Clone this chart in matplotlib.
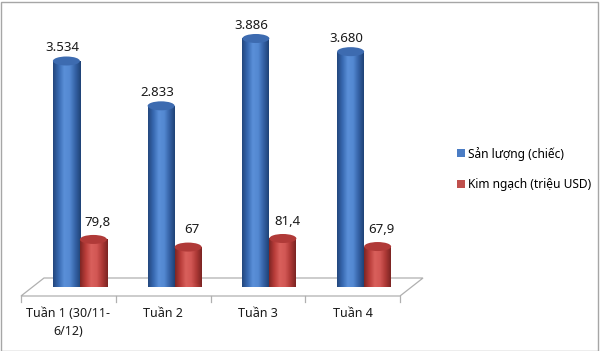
import numpy as np
import matplotlib.pyplot as plt
from matplotlib.patches import Ellipse, Polygon, Rectangle, Patch
from matplotlib.colors import LinearSegmentedColormap
from matplotlib.lines import Line2D

plt.rcParams['font.family'] = ['Noto Sans', 'DejaVu Sans']

categories = ['Tuần 1 (30/11-\n6/12)', 'Tuần 2', 'Tuần 3', 'Tuần 4']
san_luong = [3534, 2833, 3886, 3680]
kim_ngach = [79.8, 67, 81.4, 67.9]
san_luong_labels = ['3.534', '2.833', '3.886', '3.680']
kim_ngach_labels = ['79,8', '67', '81,4', '67,9']
series_names = ['Sản lượng (chiếc)', 'Kim ngạch (triệu USD)']

blue_cmap = LinearSegmentedColormap.from_list(
    'blue_cyl', ['#23467c', '#3768b0', '#5a8fd8', '#5489d2', '#3562a6', '#1f4275'])
red_cmap = LinearSegmentedColormap.from_list(
    'red_cyl', ['#7c2523', '#b83c39', '#d9605c', '#d25754', '#ad3936', '#7a2422'])

W, H, DPI = 600, 351, 100
fig = plt.figure(figsize=(W / DPI, H / DPI), dpi=DPI)

# plot plane (middle depth of the 3d floor), in pixels
px_left, px_right, px_zero, px_top = 32.5, 411.5, 287, 20
ax = fig.add_axes([px_left / W, (H - px_zero) / H,
                   (px_right - px_left) / W, (px_zero - px_top) / H])
ax2 = ax.twinx()

x = np.arange(len(categories))
xmin, xmax = -0.5, len(categories) - 0.5
y1max, y2max = 4175, 448
px_x = (px_right - px_left) / (xmax - xmin)
px_y1 = (px_zero - px_top) / y1max
px_y2 = (px_zero - px_top) / y2max

bar_w = 27 / px_x
cap_px = 9
depth_dx = 11.5 / px_x
depth_dy = 9 / px_y1


def cylinders(a, xs, vals, cmap, cap_color, px_y):
    eh = cap_px / px_y
    bars = a.bar(xs, vals, bar_w, align='edge', color='none', edgecolor='none', zorder=3)
    grad = np.linspace(0, 1, 256).reshape(1, -1)
    for b in bars:
        x0, w, h = b.get_x(), b.get_width(), b.get_height()
        base = Ellipse((x0 + w / 2, 0), w, eh, facecolor='none', edgecolor='none')
        a.add_patch(base)
        for clip in (b, base):
            im = a.imshow(grad, cmap=cmap, extent=(x0, x0 + w, -eh, h), aspect='auto',
                          origin='lower', interpolation='bilinear', zorder=3)
            im.set_clip_path(clip)
            im.set_clip_on(True)
        a.add_patch(Ellipse((x0 + w / 2, h), w, eh, facecolor=cap_color,
                            edgecolor='none', zorder=4))
    return bars


# floor of the 3d chart
floor = Polygon([(xmin - depth_dx, -depth_dy), (xmax - depth_dx, -depth_dy),
                 (xmax + depth_dx, depth_dy), (xmin + depth_dx, depth_dy)],
                closed=True, facecolor='white', edgecolor='#b0b0b0', lw=0.9,
                clip_on=False, zorder=1)
ax.add_patch(floor)
tick_len = 6 / px_y1
for xb in np.arange(xmin, xmax + 0.01, 1.0):
    ax.add_line(Line2D([xb - depth_dx, xb - depth_dx], [-depth_dy, -depth_dy - tick_len],
                       color='#b0b0b0', lw=0.9, clip_on=False))

cylinders(ax, x - bar_w, san_luong, blue_cmap, '#3d6bb0', px_y1)
cylinders(ax2, x, kim_ngach, red_cmap, '#b03a38', px_y2)

for xi, v, t in zip(x, san_luong, san_luong_labels):
    ax.annotate(t, (xi - bar_w / 2, v), xytext=(-3, 9.5), textcoords='offset points',
                ha='center', va='center', fontsize=9.5, color='#1a1a1a')
for xi, v, t in zip(x, kim_ngach, kim_ngach_labels):
    ax2.annotate(t, (xi + bar_w / 2, v), xytext=(3, 12.5), textcoords='offset points',
                 ha='center', va='center', fontsize=9.5, color='#1a1a1a')

for xi, c in zip(x, categories):
    ax.text(xi - depth_dx, -depth_dy - 11 / px_y1, c, ha='center', va='top',
            fontsize=9, color='#1a1a1a', linespacing=1.5)

for a, ym in ((ax, y1max), (ax2, y2max)):
    a.set_xlim(xmin, xmax)
    a.set_ylim(0, ym)
    a.set_autoscale_on(False)
    a.axis('off')

handles = [Patch(facecolor='#4a7cc4', edgecolor='none'),
           Patch(facecolor='#c0504d', edgecolor='none')]
fig.legend(handles, series_names, loc='center left', bbox_to_anchor=(451 / W, 1 - 169 / H),
           frameon=False, fontsize=8.6, handlelength=0.65, handleheight=0.65,
           handletextpad=0.3, labelspacing=1.5, borderpad=0)

fig.patches.append(Rectangle((0.5 / W, 0.5 / H), 1 - 3 / W, 1 - 2 / H,
                             transform=fig.transFigure, fill=False,
                             edgecolor='#a6a6a6', lw=1))

plt.savefig('out.png', dpi=DPI)
